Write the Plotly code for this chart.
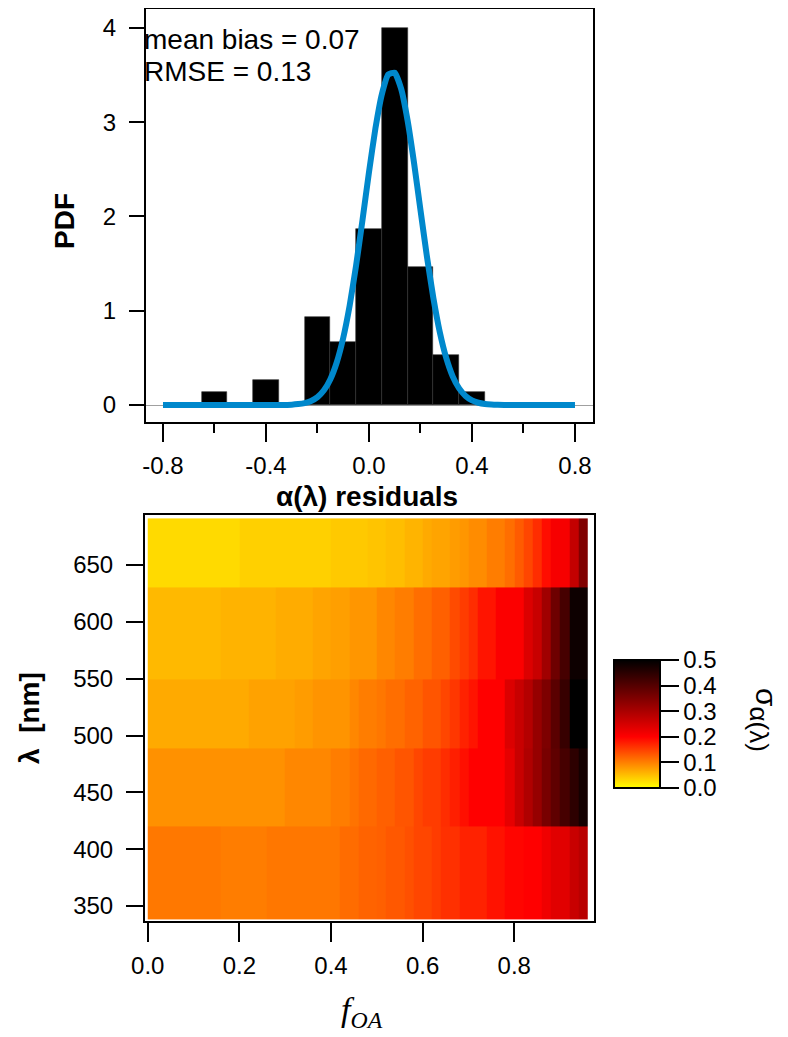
import numpy as np
import plotly.graph_objects as go

# --- top panel: histogram of alpha(lambda) residuals + fitted normal ---
bin_centers = [-0.6, -0.5, -0.4, -0.3, -0.2, -0.1, 0.0, 0.1, 0.2, 0.3, 0.4]
pdf_values = [0.133, 0.0, 0.267, 0.0, 0.933, 0.667, 1.867, 4.0, 1.467, 0.533, 0.133]
bin_width = 0.1

fit_x = [-0.8, -0.7, -0.6, -0.5, -0.4, -0.35, -0.3, -0.275, -0.25, -0.225,
         -0.2, -0.175, -0.15, -0.125, -0.1, -0.075, -0.05, -0.025, 0.0, 0.025,
         0.05, 0.075, 0.1, 0.125, 0.15, 0.175, 0.2, 0.225, 0.25, 0.275,
         0.3, 0.325, 0.35, 0.375, 0.4, 0.425, 0.45, 0.475, 0.5, 0.55,
         0.6, 0.7, 0.8]
fit_pdf = [0.0, 0.0, 0.0, 0.0, 0.0, 0.001, 0.004, 0.010, 0.021, 0.043,
           0.084, 0.156, 0.274, 0.454, 0.712, 1.055, 1.481, 1.967, 2.470, 2.934,
           3.297, 3.505, 3.524, 3.352, 3.016, 2.567, 2.067, 1.575, 1.135, 0.773,
           0.499, 0.304, 0.176, 0.096, 0.049, 0.024, 0.011, 0.005, 0.002, 0.0,
           0.0, 0.0, 0.0]

stats_text = ["mean bias = 0.07", "RMSE = 0.13"]

# --- bottom panel: sigma of alpha(lambda) vs f_OA and wavelength ---
f_oa_edges = np.round(np.arange(0, 0.961, 0.02), 2)
wavelength_edges = [338, 420, 489, 549, 630, 691]

sig_370 = [0.106, 0.106, 0.106, 0.106, 0.106, 0.106, 0.106, 0.106, 0.102, 0.102,
           0.102, 0.102, 0.102, 0.107, 0.107, 0.107, 0.107, 0.107, 0.107, 0.107,
           0.107, 0.115, 0.115, 0.122, 0.122, 0.125, 0.131, 0.131, 0.137, 0.145,
           0.145, 0.153, 0.162, 0.162, 0.173, 0.173, 0.173, 0.186, 0.186, 0.196,
           0.196, 0.200, 0.200, 0.218, 0.235, 0.235, 0.265, 0.282]
sig_470 = [0.086, 0.086, 0.086, 0.086, 0.086, 0.086, 0.086, 0.086, 0.086, 0.086,
           0.086, 0.086, 0.086, 0.086, 0.086, 0.094, 0.094, 0.094, 0.094, 0.094,
           0.102, 0.102, 0.110, 0.118, 0.118, 0.125, 0.125, 0.133, 0.133, 0.145,
           0.153, 0.153, 0.165, 0.176, 0.188, 0.200, 0.200, 0.200, 0.200, 0.229,
           0.265, 0.294, 0.324, 0.359, 0.388, 0.418, 0.447, 0.476]
sig_520 = [0.067, 0.067, 0.067, 0.067, 0.067, 0.067, 0.067, 0.067, 0.067, 0.067,
           0.067, 0.073, 0.073, 0.073, 0.073, 0.073, 0.078, 0.078, 0.084, 0.084,
           0.084, 0.084, 0.094, 0.102, 0.102, 0.107, 0.114, 0.114, 0.122, 0.122,
           0.133, 0.133, 0.145, 0.157, 0.173, 0.184, 0.200, 0.200, 0.200, 0.241,
           0.265, 0.288, 0.324, 0.353, 0.394, 0.435, 0.500, 0.500]
sig_590 = [0.055, 0.055, 0.055, 0.055, 0.055, 0.055, 0.055, 0.055, 0.060, 0.060,
           0.060, 0.060, 0.060, 0.060, 0.065, 0.065, 0.065, 0.065, 0.071, 0.071,
           0.075, 0.075, 0.082, 0.082, 0.082, 0.094, 0.094, 0.102, 0.102, 0.114,
           0.114, 0.125, 0.125, 0.141, 0.153, 0.165, 0.184, 0.184, 0.203, 0.203,
           0.203, 0.241, 0.265, 0.312, 0.371, 0.418, 0.485, 0.485]
sig_660 = [0.029, 0.029, 0.029, 0.029, 0.029, 0.029, 0.029, 0.029, 0.029, 0.029,
           0.037, 0.037, 0.037, 0.037, 0.037, 0.037, 0.037, 0.037, 0.037, 0.037,
           0.042, 0.042, 0.042, 0.042, 0.046, 0.046, 0.051, 0.051, 0.059, 0.059,
           0.067, 0.071, 0.071, 0.078, 0.082, 0.090, 0.090, 0.102, 0.102, 0.114,
           0.129, 0.145, 0.165, 0.190, 0.210, 0.210, 0.270, 0.350]

hist_ticks = [-0.8, -0.4, 0.0, 0.4, 0.8]
hist_ticktext = ["-0.8", "-0.4", "0.0", "0.4", "0.8"]
hist_minor = [-0.6, -0.2, 0.2, 0.6]
pdf_ticks = [0, 1, 2, 3, 4]
foa_ticks = [0.0, 0.2, 0.4, 0.6, 0.8]
wl_ticks = [350, 400, 450, 500, 550, 600, 650]
cbar_ticks = [0.0, 0.1, 0.2, 0.3, 0.4, 0.5]

# the page body adds an 8px margin, so the figure is drawn 8px in from the corner
OFF = 8
W, H = 788 - OFF, 1037 - OFF
FONT = "Liberation Sans, Arial, sans-serif"
BLUE = "#0088cc"
yellow_hot = [[0.0, "#ffff00"], [0.4, "#ff0000"], [1.0, "#000000"]]


def px_x(x):
    # page pixel -> paper fraction
    return (x - OFF) / W


def px_y(y):
    return 1 - (y - OFF) / H


fig = go.Figure()

fig.add_trace(go.Bar(
    x=bin_centers, y=pdf_values, width=bin_width,
    marker=dict(color="black", line=dict(width=0.6, color="#333333")),
    xaxis="x", yaxis="y", showlegend=False,
))
fig.add_trace(go.Scatter(
    x=fit_x, y=fit_pdf, mode="lines",
    line=dict(color=BLUE, width=6, shape="spline", smoothing=0.5),
    xaxis="x", yaxis="y", showlegend=False,
))

sigma_rows = [sig_370, sig_470, sig_520, sig_590, sig_660]
fig.add_trace(go.Heatmap(
    x=f_oa_edges, y=wavelength_edges, z=sigma_rows,
    zmin=0, zmax=0.5, colorscale=yellow_hot,
    xaxis="x2", yaxis="y2",
    colorbar=dict(
        x=px_x(614), xanchor="left", xpad=0,
        y=px_y(724), yanchor="middle", ypad=0,
        thickness=46, thicknessmode="pixels",
        len=128, lenmode="pixels",
        outlinewidth=2, outlinecolor="black",
        ticks="outside", ticklen=18, tickwidth=2, tickcolor="black",
        tickvals=cbar_ticks, tickformat=".1f",
        tickfont=dict(family=FONT, size=24, color="black"),
    ),
))

axis_common = dict(
    showline=True, linewidth=2, linecolor="black", mirror=True,
    showgrid=False, ticks="outside", tickwidth=2, tickcolor="black",
    automargin=False,
    tickfont=dict(family=FONT, size=24, color="black"),
)

fig.update_layout(
    width=W, height=H,
    margin=dict(l=0, r=0, t=0, b=0, autoexpand=False),
    paper_bgcolor="white", plot_bgcolor="white",
    bargap=0,
    xaxis=dict(
        domain=[px_x(146), px_x(593)], range=[-0.866, 0.870], anchor="y",
        tickvals=hist_ticks, ticktext=hist_ticktext, ticklen=18,
        ticklabelstandoff=3,
        minor=dict(tickvals=hist_minor, ticklen=9, tickwidth=2,
                   tickcolor="black", ticks="outside"),
        zeroline=False, **axis_common,
    ),
    yaxis=dict(
        domain=[px_y(422), px_y(9)], range=[-0.18, 4.2], anchor="x",
        tickvals=pdf_ticks, ticklen=15, ticklabelstandoff=8,
        zeroline=True, zerolinecolor="#a0a0a0", zerolinewidth=1,
        **axis_common,
    ),
    xaxis2=dict(
        domain=[px_x(145), px_x(594)], range=[-0.006, 0.974], anchor="y2",
        tickvals=foa_ticks, tickformat=".1f", ticklen=19, ticklabelstandoff=3,
        zeroline=False, **axis_common,
    ),
    yaxis2=dict(
        domain=[px_y(921), px_y(515)], range=[336.8, 694], anchor="x2",
        tickvals=wl_ticks, ticklen=17, ticklabelstandoff=8,
        zeroline=False, **axis_common,
    ),
)

annotations = [
    dict(text=stats_text[0], x=px_x(142), y=px_y(39), xanchor="left",
         font=dict(family=FONT, size=28, color="black")),
    dict(text=stats_text[1], x=px_x(142), y=px_y(72), xanchor="left",
         font=dict(family=FONT, size=28, color="black")),
    dict(text="<b>PDF</b>", x=px_x(64), y=px_y(221), textangle=-90,
         font=dict(family=FONT, size=28, color="black")),
    dict(text="<b>α(λ) residuals</b>", x=px_x(367), y=px_y(496),
         font=dict(family=FONT, size=28, color="black")),
    dict(text="<b>λ&nbsp;&nbsp;[nm]</b>", x=px_x(29), y=px_y(718), textangle=-90,
         font=dict(family=FONT, size=28, color="black")),
    dict(text="<i>f</i><sub><i>OA</i></sub>", x=px_x(362), y=px_y(1012),
         font=dict(family="Liberation Serif, Times New Roman, serif", size=34, color="black")),
    dict(text="σ<sub><span style='font-size:26px'>α(λ)</span></sub>",
         x=px_x(764), y=px_y(720), textangle=90,
         font=dict(family=FONT, size=30, color="black")),
]
for a in annotations:
    a.setdefault("xanchor", "center")
    a.update(xref="paper", yref="paper", yanchor="middle", showarrow=False)
fig.update_layout(annotations=annotations)

fig.write_html("out.html")
